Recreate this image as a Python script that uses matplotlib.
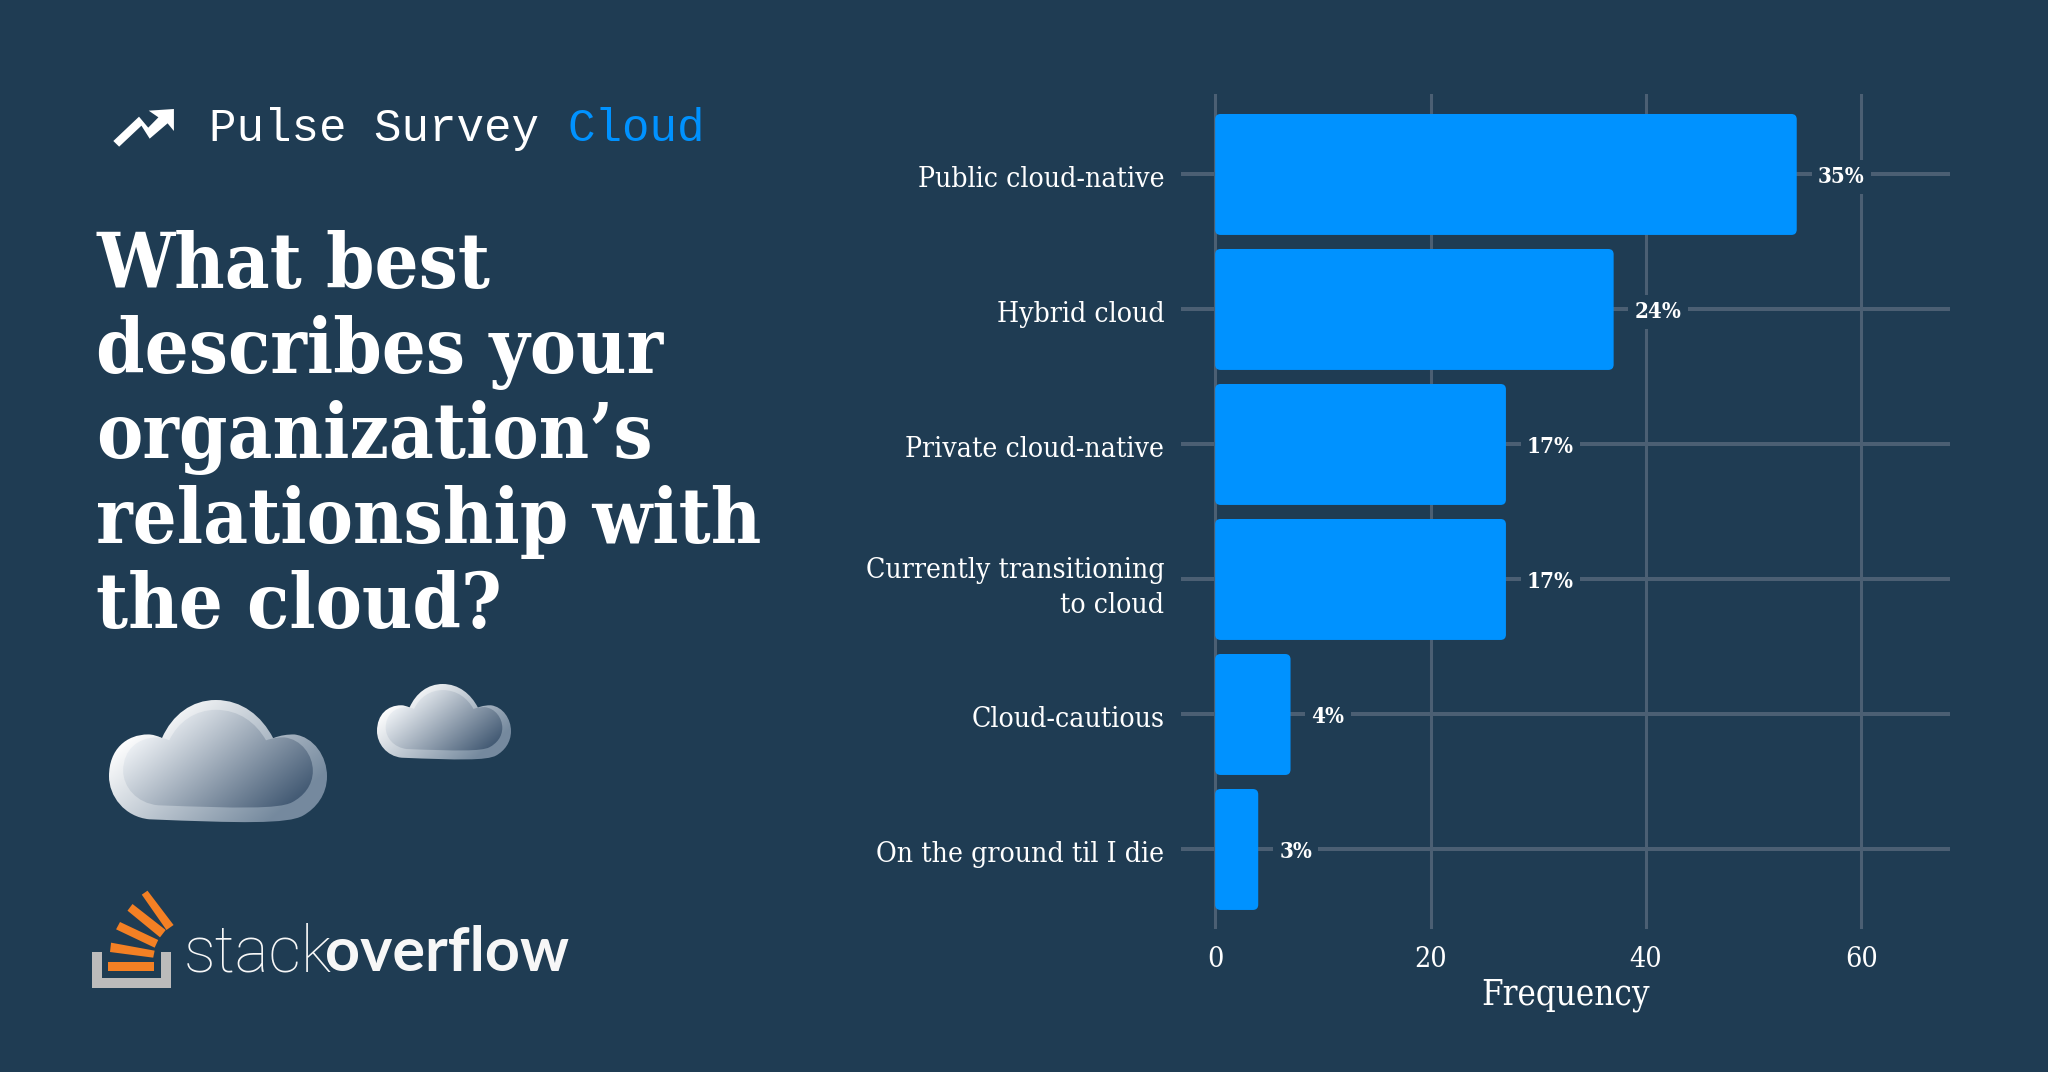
#!/usr/bin/env python3

import matplotlib
matplotlib.use("Agg")
import matplotlib.pyplot as plt
import numpy as np
from matplotlib.patches import FancyBboxPatch, Polygon, PathPatch
from matplotlib.path import Path
from matplotlib.transforms import ScaledTranslation

# Data
categories = ["Public cloud-native", "Hybrid cloud", "Private cloud-native",
              "Currently transitioning\nto cloud", "Cloud-cautious", "On the ground til I die"]
frequency = [54, 37, 27, 27, 7, 4]
percent_labels = ["35%", "24%", "17%", "17%", "4%", "3%"]
x_ticks = [0, 20, 40, 60]
title_lines = ["What best", "describes your", "organization\u2019s", "relationship with", "the cloud?"]

BG = "#1f3c53"
BLUE = "#0092ff"
GRID = "#4b5f73"
W, H = 2048, 1072
SERIF = "DejaVu Serif"

fig = plt.figure(figsize=(W / 100, H / 100), dpi=100, facecolor=BG)

# Chart, axes placed on the pixel frame of the reference
ax = fig.add_axes([1181 / W, 1 - 929 / H, (1950 - 1181) / W, (929 - 94) / H])
ax.set_facecolor(BG)
ax.set_xlim(-3.17, 68.23)
ax.set_ylim(5.589, -0.596)
for s in ax.spines.values():
    s.set_visible(False)

ax.set_axisbelow(True)
ax.xaxis.grid(True, color=GRID, lw=2.2)
ax.yaxis.grid(True, color=GRID, lw=2.9)
ax.set_xticks(x_ticks)
ax.set_yticks(range(len(categories)))
ax.set_yticklabels(categories, color="white", fontsize=20.3, family=SERIF, stretch="condensed",
                   ha="right", linespacing=1.36)
ax.set_xticklabels([str(t) for t in x_ticks], color="white", fontsize=20.5, family=SERIF, stretch="condensed")
ax.tick_params(axis="y", length=0, pad=12)
ax.tick_params(axis="x", length=0, pad=12)
ax.set_xlabel("Frequency", color="white", fontsize=25, family=SERIF, stretch="condensed", labelpad=4)

# y labels sit a little under their grid lines in the reference
nudge = ScaledTranslation(0, -2 / 100, fig.dpi_scale_trans)
for label in ax.get_yticklabels():
    label.set_transform(label.get_transform() + nudge)

bar_h = 0.896
px_aspect = 10.77 / 135
for i, v in enumerate(frequency):
    bar = FancyBboxPatch((0, i - bar_h / 2), v, bar_h,
                         boxstyle="round,pad=0,rounding_size=0.5",
                         mutation_aspect=px_aspect, fc=BLUE, ec="none", zorder=3)
    ax.add_patch(bar)
    ax.text(v + 1.95, i + 0.02, percent_labels[i], color="white", fontsize=16, fontweight="bold",
            family=SERIF, stretch="condensed", va="center", ha="left", zorder=4,
            bbox=dict(fc=BG, ec="none", pad=4.5))

# Left panel drawn in pixel coordinates
deco = fig.add_axes([0, 0, 1, 1])
deco.patch.set_alpha(0)
deco.axis("off")


def zoom1(pts):
    return [(60 + x / 2.063, 60 + y / 3) for x, y in pts]


def zoom2(pts):
    return [(60 + x / 2.8, 660 + y / 3) for x, y in pts]


# Header
deco.add_patch(Polygon(zoom1([(122, 260), (168, 197), (185, 236), (222, 190), (235, 213), (235, 147),
                              (183, 152), (203, 172), (182, 203), (163, 170), (110, 243)]),
                       fc="white", ec="none"))
deco.text(209, 141, "Pulse Survey", color="white", fontsize=33, family="Liberation Mono", va="baseline")
deco.text(568, 141, "Cloud", color=BLUE, fontsize=33, family="Liberation Mono", va="baseline")

# Title
for i, line in enumerate(title_lines):
    deco.text(96, 288 + i * 85, line, color="white", fontsize=55.6, fontweight="bold",
              family=SERIF, stretch="condensed", va="baseline", ha="left")

# Clouds
outline = np.array([(0.185, 0.97), (0.07, 0.95), (0.0, 0.78), (0.0, 0.62), (0.0, 0.40), (0.08, 0.28), (0.18, 0.28),
                    (0.20, 0.28), (0.22, 0.29), (0.243, 0.31), (0.29, 0.12), (0.38, 0.0), (0.49, 0.0),
                    (0.61, 0.0), (0.70, 0.13), (0.753, 0.31), (0.79, 0.285), (0.82, 0.28), (0.85, 0.28),
                    (0.94, 0.30), (1.0, 0.46), (1.0, 0.62), (1.0, 0.77), (0.95, 0.88), (0.89, 0.94),
                    (0.82, 1.01), (0.60, 1.0), (0.185, 0.97)])
codes = [Path.MOVETO] + [Path.CURVE4] * (len(outline) - 1)


def gradient(lo, hi, extent, clip, zorder):
    yy, xx = np.mgrid[0:1:200j, 0:1:200j]
    t = np.clip(xx * 0.9 + yy * 0.6 - 0.25, 0, 1)[..., None]
    img = np.array(lo) * (1 - t) + np.array(hi) * t
    im = deco.imshow(img, extent=extent, aspect="auto", zorder=zorder, interpolation="bilinear")
    im.set_clip_path(clip)


def draw_cloud(x0, y0, w, h):
    pts = outline * [w, h] + [x0, y0]
    p1 = PathPatch(Path(pts, codes), fc="none", ec="none")
    deco.add_patch(p1)
    gradient((1, 1, 1), (0.46, 0.54, 0.62), (x0, x0 + w, y0 + h, y0), p1, 2)
    # inner face of the cloud
    inner = (outline - 0.5) * [0.87, 0.80] + [0.5, 0.48]
    pts2 = inner * [w, h] + [x0, y0]
    p2 = PathPatch(Path(pts2, codes), fc="none", ec="none")
    deco.add_patch(p2)
    gradient((0.97, 0.98, 0.99), (0.27, 0.36, 0.46), (x0, x0 + w, y0 + h, y0), p2, 3)


draw_cloud(109, 700, 218, 123)
draw_cloud(377, 684, 134, 76)

# Logo
deco.add_patch(Polygon(zoom2([(90, 875), (118, 875), (118, 953), (283, 953), (283, 875), (310, 875),
                              (310, 983), (90, 983)]), fc="#bcbbbb", ec="none"))
orange = [[(135, 905), (264, 905), (264, 933), (135, 933)],
          [(143, 848), (265, 872), (261, 893), (140, 876)],
          [(168, 786), (275, 840), (265, 863), (157, 808)],
          [(203, 732), (296, 810), (280, 832), (189, 752)],
          [(245, 692), (318, 795), (298, 810), (229, 704)]]
for pts in orange:
    deco.add_patch(Polygon(zoom2(pts), fc="#f48024", ec="none"))
deco.text(184, 971, "stack", color="#f7f7f7", fontsize=46, family="Roboto", fontweight="light", va="baseline")
deco.text(325, 971, "overflow", color="#f7f7f7", fontsize=44, family="Lato", fontweight="bold", va="baseline")

deco.set_xlim(0, W)
deco.set_ylim(H, 0)
fig.savefig("out.png", dpi=100, facecolor=BG)
